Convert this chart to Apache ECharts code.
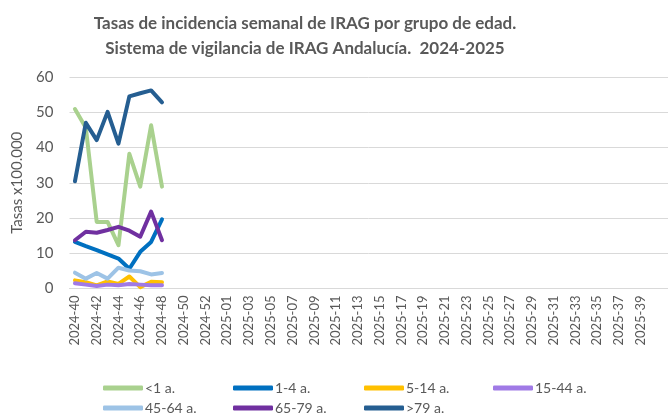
<!DOCTYPE html>
<html>
<head>
<meta charset="utf-8">
<script src="https://cdn.jsdelivr.net/npm/echarts@6/dist/echarts.min.js"></script>
<style>
    html, body { margin: 0; padding: 0; background: #fff; }
    #main { width: 668px; height: 413px; }
</style>
</head>
<body>
<div id="main"></div>
<script>
// semanas (eje X)
var weeks2024 = ['2024-40', '2024-41', '2024-42', '2024-43', '2024-44', '2024-45', '2024-46',
    '2024-47', '2024-48', '2024-49', '2024-50', '2024-51', '2024-52', '2024-53'];
var weeks2025 = [];
for (var w = 1; w <= 41; w++) {
    weeks2025.push('2025-' + (w < 10 ? '0' + w : w));
}
var weeks = weeks2024.concat(weeks2025);

// tasas por grupo de edad
var menos1  = [50.9, 45.6, 18.9, 18.9, 12.3, 38.2, 28.9, 46.3, 28.9];
var de1a4   = [13.2, 12.0, 10.9, 9.7, 8.5, 5.6, 10.4, 13.2, 19.6];
var de5a14  = [2.3, 1.8, 0.9, 2.0, 1.3, 3.4, 0.4, 1.9, 1.8];
var de15a44 = [1.5, 1.1, 0.7, 1.1, 0.9, 1.3, 1.1, 0.9, 0.9];
var de45a64 = [4.5, 2.8, 4.4, 2.8, 5.9, 5.1, 4.9, 4.0, 4.4];
var de65a79 = [13.7, 16.1, 15.8, 16.6, 17.5, 16.4, 14.7, 21.8, 13.7];
var mas79   = [30.4, 47.0, 42.1, 50.1, 41.1, 54.5, 55.4, 56.2, 52.8];

var names  = ['<1 a.', '1-4 a.', '5-14 a.', '15-44 a.', '45-64 a.', '65-79 a.', '>79 a.'];
var colors = ['#A9D18E', '#0070C0', '#FFC000', '#A07AE6', '#9DC3E6', '#7030A0', '#255E91'];
var datos  = [menos1, de1a4, de5a14, de15a44, de45a64, de65a79, mas79];

var fuente = 'Lato, "Open Sans", sans-serif';
var gris = '#595959';

var chart = echarts.init(document.getElementById('main'));

var series = [];
for (var i = 0; i < names.length; i++) {
    series.push({
        name: names[i],
        type: 'line',
        data: datos[i],
        symbol: 'none',
        color: colors[i],
        lineStyle: { width: 4, cap: 'round', join: 'round' }
    });
}

// leyenda: una entrada por componente, colocada en rejilla como en Excel
var legendLeft = [98, 228, 359, 488, 98, 228, 359];
var legendTop  = [376, 376, 376, 376, 396, 396, 396];
var legends = [];
for (var k = 0; k < names.length; k++) {
    legends.push({
        left: legendLeft[k],
        top: legendTop[k],
        itemWidth: 40,
        itemHeight: 5,
        icon: 'roundRect',
        data: [names[k]],
        textStyle: { color: gris, fontSize: 14, fontFamily: fuente, padding: [0, 0, 0, -3] }
    });
}

var option = {
    animation: false,
    title: {
        text: 'Tasas de incidencia semanal de IRAG por grupo de edad.\nSistema de vigilancia de IRAG Andalucía.  2024-2025',
        left: 300,
        textAlign: 'center',
        top: 6,
        textStyle: { color: gris, fontSize: 17, fontWeight: 'bold', fontFamily: fuente, lineHeight: 25 }
    },
    legend: legends,
    grid: { left: 69.5, right: 0, top: 77, bottom: 124.5 },
    xAxis: {
        type: 'category',
        data: weeks,
        boundaryGap: true,
        axisLine: { lineStyle: { color: '#D9D9D9', width: 1 } },
        axisTick: { show: false },
        axisLabel: {
            rotate: 90,
            interval: function (idx) { return idx % 2 === 0 && idx < 54; },
            color: gris,
            fontSize: 13,
            fontFamily: fuente,
            margin: 7
        }
    },
    yAxis: {
        type: 'value',
        min: 0,
        max: 60,
        interval: 10,
        name: 'Tasas x100.000',
        nameLocation: 'middle',
        nameGap: 45,
        nameTextStyle: { color: gris, fontSize: 15, fontFamily: fuente },
        axisLine: { show: false },
        axisTick: { show: false },
        axisLabel: { color: gris, fontSize: 15, fontFamily: fuente, margin: 16 },
        splitLine: { lineStyle: { color: '#D9D9D9', width: 1 } }
    },
    series: series
};

chart.setOption(option);
</script>
</body>
</html>
